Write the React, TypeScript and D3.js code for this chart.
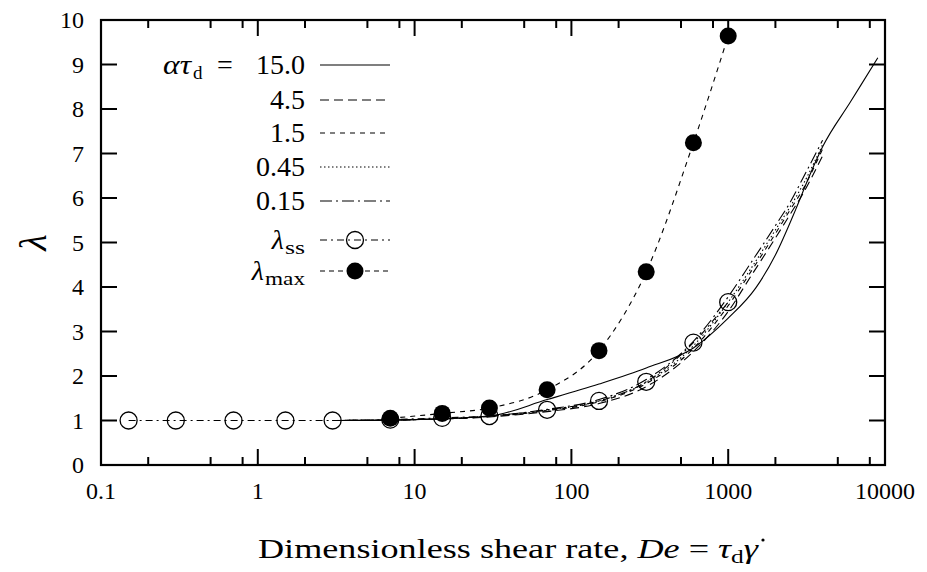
import React from "react";
import * as d3 from "d3";

// ---- data ----
const xTickValues = [0.1, 1, 10, 100, 1000, 10000];
const xTickLabels = ["0.1", "1", "10", "100", "1000", "10000"];
const yTickValues = [0, 1, 2, 3, 4, 5, 6, 7, 8, 9, 10];

const deSS = [0.15, 0.3, 0.7, 1.5, 3, 7, 15, 30, 70, 150, 300, 600, 1000];
const lambdaSS = [1.0, 1.0, 1.0, 1.0, 1.0, 1.02, 1.06, 1.1, 1.24, 1.44, 1.87, 2.75, 3.66];

const deMax = [7, 15, 30, 70, 150, 300, 600, 1000];
const lambdaMax = [1.05, 1.16, 1.28, 1.69, 2.57, 4.34, 7.24, 9.64];

const deA150 = [3, 10, 30, 70, 150, 300, 600, 1000, 1500, 2000, 2700, 3300, 4000, 6000, 9000];
const lamA150 = [1.0, 1.02, 1.1, 1.47, 1.82, 2.18, 2.63, 3.3, 3.98, 4.72, 5.75, 6.5, 7.15, 8.15, 9.15];

const deModel = [3, 10, 30, 70, 150, 300, 600, 1000, 1400, 2000, 2500, 3000, 4000];
const lamA45 = [1.0, 1.02, 1.08, 1.2, 1.38, 1.76, 2.55, 3.45, 4.25, 5.1, 5.65, 6.1, 6.95];
const lamA15 = [1.0, 1.02, 1.09, 1.22, 1.42, 1.83, 2.62, 3.58, 4.35, 5.2, 5.75, 6.2, 7.1];
const lamA045 = [1.0, 1.02, 1.1, 1.23, 1.44, 1.86, 2.68, 3.66, 4.42, 5.28, 5.82, 6.3, 7.2];
const lamA015 = [1.0, 1.02, 1.1, 1.25, 1.47, 1.92, 2.78, 3.78, 4.55, 5.38, 5.92, 6.45, 7.3];

const legendLabels = ["15.0", "4.5", "1.5", "0.45", "0.15"];

// ---- layout ----
const W = 927;
const H = 572;
const L = 101, R = 885, T = 20, B = 465;
const tf = (size: number, italic = false): React.CSSProperties => ({
  fontFamily: "Liberation Serif",
  fontSize: size,
  fontStyle: italic ? "italic" : "normal",
});

const x = d3.scaleLog().domain([0.1, 10000]).range([L, R]);
const y = d3.scaleLinear().domain([0, 10]).range([B, T]);

const line = d3
  .line<[number, number]>()
  .x((d) => x(d[0]))
  .y((d) => y(d[1]))
  .curve(d3.curveMonotoneX);

const zip = (a: number[], b: number[]) => a.map((v, i) => [v, b[i]] as [number, number]);

const modelSeries = [
  { de: deA150, lam: lamA150, dash: "none" },
  { de: deModel, lam: lamA45, dash: "9,5" },
  { de: deModel, lam: lamA15, dash: "5,5" },
  { de: deModel, lam: lamA045, dash: "1.5,2.5" },
  { de: deModel, lam: lamA015, dash: "12,4,2,4" },
];

const minorTicks: number[] = [];
for (let e = -1; e < 4; e++) {
  for (const m of [2, 5, 8]) minorTicks.push(m * Math.pow(10, e));
}

export default function App() {
  const legendYs = [65, 100, 133, 167, 201, 240, 271];
  const lx1 = 320, lx2 = 390, ltx = 305;
  return (
    <svg width={W} height={H} style={{ position: "absolute", left: 0, top: 0, background: "#fff" }}>
      <rect x={0} y={0} width={W} height={H} fill="#fff" />
      {/* model curves */}
      {modelSeries.map((s, i) => (
        <path key={i} d={line(zip(s.de, s.lam)) || ""} fill="none" stroke="#000" strokeWidth={1.1}
          strokeDasharray={s.dash === "none" ? undefined : s.dash} />
      ))}
      {/* lambda_ss */}
      <path d={line(zip(deSS, lambdaSS)) || ""} fill="none" stroke="#000" strokeWidth={1.1} strokeDasharray="7,4,2,4" />
      {deSS.map((d, i) => (
        <circle key={i} cx={x(d)} cy={y(lambdaSS[i])} r={8.5} fill="none" stroke="#000" strokeWidth={1.3} />
      ))}
      {/* lambda_max */}
      <path d={line(zip(deMax, lambdaMax)) || ""} fill="none" stroke="#000" strokeWidth={1.1} strokeDasharray="5,5" />
      {deMax.map((d, i) => (
        <circle key={i} cx={x(d)} cy={y(lambdaMax[i])} r={8.5} fill="#000" />
      ))}

      {/* ticks */}
      {xTickValues.map((v, i) => (
        <g key={"xt" + i}>
          <line x1={x(v)} x2={x(v)} y1={B} y2={B - 16} stroke="#000" strokeWidth={2} />
          <line x1={x(v)} x2={x(v)} y1={T} y2={T + 16} stroke="#000" strokeWidth={2} />
          <text x={x(v)} y={B + 34} textAnchor="middle" style={tf(24)}>{xTickLabels[i]}</text>
        </g>
      ))}
      {minorTicks.map((v, i) => (
        <g key={"mt" + i}>
          <line x1={x(v)} x2={x(v)} y1={B} y2={B - 8} stroke="#000" strokeWidth={2} />
          <line x1={x(v)} x2={x(v)} y1={T} y2={T + 8} stroke="#000" strokeWidth={2} />
        </g>
      ))}
      {yTickValues.map((v) => (
        <g key={"yt" + v}>
          <line x1={L} x2={L + 16} y1={y(v)} y2={y(v)} stroke="#000" strokeWidth={2} />
          <line x1={R} x2={R - 16} y1={y(v)} y2={y(v)} stroke="#000" strokeWidth={2} />
          <text x={84} y={y(v) + 8} textAnchor="end" style={tf(24)}>{v}</text>
        </g>
      ))}
      {/* frame */}
      <rect x={L} y={T} width={R - L} height={B - T} fill="none" stroke="#000" strokeWidth={2.2} />

      {/* axis labels */}
      <text x={0} y={0} transform={`translate(46,${(T + B) / 2}) rotate(-90)`} textAnchor="middle"
        style={tf(38, true)}>λ</text>
      <text x={258} y={558} textLength={500} lengthAdjust="spacingAndGlyphs" style={tf(27)}>
        Dimensionless shear rate, <tspan style={tf(27, true)}>De</tspan> = <tspan style={tf(27, true)}>τ</tspan>
        <tspan style={tf(19)} dy={5}>d</tspan>
        <tspan dy={-5} style={tf(27, true)}>γ</tspan>
      </text>
      <circle cx={763} cy={540} r={1.6} fill="#000" />

      {/* legend */}
      <text x={163} y={legendYs[0] + 9} textLength={28} lengthAdjust="spacingAndGlyphs" style={tf(28, true)}>ατ</text>
      <text x={193} y={legendYs[0] + 14} style={tf(19)}>d</text>
      <text x={225} y={legendYs[0] + 9} textAnchor="middle" style={tf(28)}>=</text>
      <text x={ltx} y={legendYs[0] + 9} textAnchor="end" style={tf(28)}>{legendLabels[0]}</text>
      {legendLabels.map((lab, i) => (
        <g key={"lg" + i}>
          {i > 0 && (
            <text x={ltx} y={legendYs[i] + 9} textAnchor="end" style={tf(28)}>{lab}</text>
          )}
          <line x1={lx1} x2={lx2} y1={legendYs[i]} y2={legendYs[i]} stroke="#000" strokeWidth={1.1}
            strokeDasharray={modelSeries[i].dash === "none" ? undefined : modelSeries[i].dash} />
        </g>
      ))}
      <text x={284} y={legendYs[5] + 9} textAnchor="end" style={tf(28, true)}>λ</text>
      <text x={285} y={legendYs[5] + 14} textLength={20} lengthAdjust="spacingAndGlyphs" style={tf(19)}>ss</text>
      <text x={264} y={legendYs[6] + 9} textAnchor="end" style={tf(28, true)}>λ</text>
      <text x={265} y={legendYs[6] + 14} textLength={40} lengthAdjust="spacingAndGlyphs" style={tf(19)}>max</text>
      <line x1={lx1} x2={lx2} y1={legendYs[5]} y2={legendYs[5]} stroke="#000" strokeWidth={1.1} strokeDasharray="7,4,2,4" />
      <circle cx={(lx1 + lx2) / 2} cy={legendYs[5]} r={8.5} fill="none" stroke="#000" strokeWidth={1.3} />
      <line x1={lx1} x2={lx2} y1={legendYs[6]} y2={legendYs[6]} stroke="#000" strokeWidth={1.1} strokeDasharray="5,4" />
      <circle cx={(lx1 + lx2) / 2} cy={legendYs[6]} r={8.5} fill="#000" />
    </svg>
  );
}
